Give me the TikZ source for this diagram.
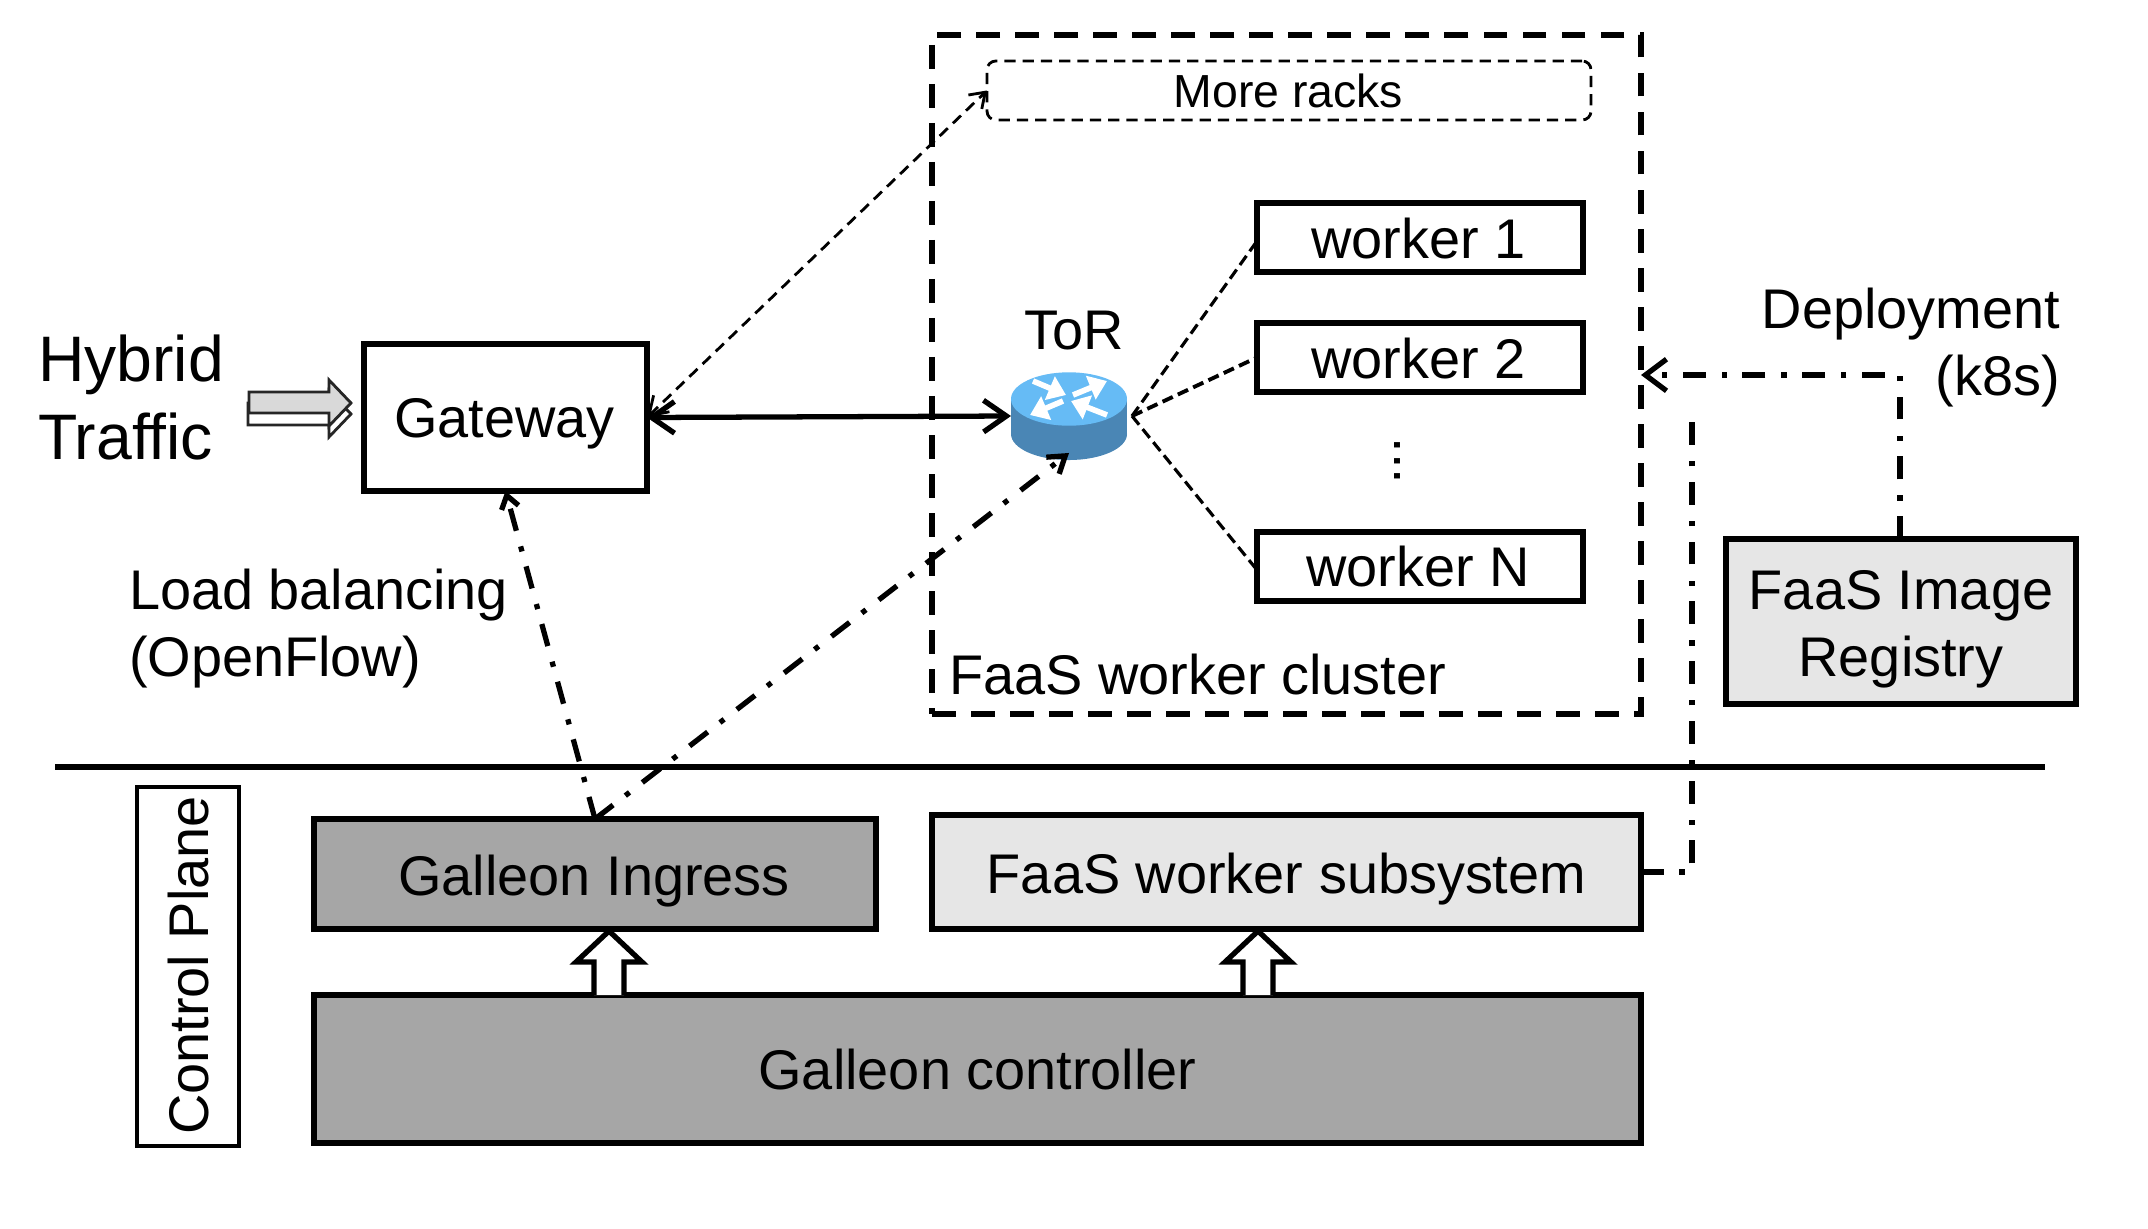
\documentclass[tikz,border=0pt]{standalone}
\usepackage{fontspec}
\setmainfont{Liberation Sans}
\usetikzlibrary{arrows.meta}
\newcommand{\fa}{\fontsize{15.9pt}{19.1pt}\selectfont}
\newcommand{\fb}{\fontsize{18.3pt}{22.2pt}\selectfont}
\newcommand{\fc}{\fontsize{13.2pt}{15pt}\selectfont}
\definecolor{darkbox}{HTML}{A6A6A6}
\definecolor{lightbox}{HTML}{E6E6E6}
\definecolor{routertop}{HTML}{66BBF5}
\definecolor{routerside}{HTML}{4A86B5}
\definecolor{trafficgray}{HTML}{D9D9D9}
\tikzset{
  plainbox/.style={draw=black,line width=1.45pt,inner sep=0pt,outer sep=0pt,font=\fa},
  box/.style={plainbox,text height=11.4pt,text depth=0pt},
  free/.style={inner sep=0pt,outer sep=0pt,font=\fa},
  clusterline/.style={line width=1.45pt,dash pattern=on 6.8pt off 4.3pt},
  thindash/.style={line width=0.8pt,dash pattern=on 3.2pt off 2pt},
  wiredash/.style={line width=0.9pt,dash pattern=on 3.2pt off 1.6pt},
  dashdot/.style={line width=1.5pt,dash pattern=on 6.5pt off 4.4pt on 1.5pt off 4.6pt},
  solidlink/.style={line width=1.5pt,{Straight Barb[length=6.5pt,width=9pt]}-{Straight Barb[length=6.5pt,width=9pt]}},
  hollow/.style={draw=black,fill=white,line width=1.5pt,line join=miter},
  traffic/.style={draw=black!85,line width=0.8pt},
  routerarrow/.style={white,line width=1.6pt,-{Triangle[length=5pt,width=7pt]}},
}
\begin{document}
\begin{tikzpicture}[x=0.2845pt,y=-0.2845pt]
\useasboundingbox (0,0) rectangle (2148,1228);
% cluster
\node[clusterline,draw=black,minimum width=709*0.2845pt,minimum height=679*0.2845pt,inner sep=0pt,outer sep=0pt] (cluster) at (1286.5,374.5) {};
\node[draw=black,thindash,rounded corners=2.5pt,minimum width=604*0.2845pt,minimum height=59*0.2845pt,inner sep=0pt,outer sep=0pt,font=\fc,text height=9.4pt,text depth=0pt] (racks) at (1289,90.5) {\hspace*{-0.4pt}\raisebox{-0.2pt}{More racks}};
% workers
\node[box,minimum width=326*0.2845pt,minimum height=69*0.2845pt] (w1) at (1420,237.5) {\hspace*{-1pt}\raisebox{-0.3pt}{worker 1}};
\node[box,minimum width=326*0.2845pt,minimum height=69*0.2845pt] (w2) at (1420,357.5) {\hspace*{-1pt}\raisebox{-0.3pt}{worker 2}};
\node[box,minimum width=326*0.2845pt,minimum height=69*0.2845pt] (wn) at (1420,566.5) {\hspace*{-1pt}worker N};
\node[free,rotate=-90] (dots) at (1397,461) {...};
% gateway
\node[box,minimum width=283*0.2845pt,minimum height=147*0.2845pt] (gw) at (505.5,417.5) {\hspace*{-0.6pt}Gateway};
% router
\node[inner sep=0pt,outer sep=0pt,minimum width=116*0.2845pt,minimum height=88*0.2845pt] (tor) at (1069,416) {};
\fill[routerside] (1011,399) rectangle (1127,434);
\fill[routerside] (1069,434) ellipse [x radius=16.5pt,y radius=7.4pt];
\fill[routertop] (1069,399) ellipse [x radius=16.5pt,y radius=7.6pt];
\draw[routerarrow] (1033,381) -- (1066,395);
\draw[routerarrow] (1073,395) -- (1107,381);
\draw[routerarrow] (1063,401) -- (1030,415);
\draw[routerarrow] (1107,415) -- (1071,401);
\node[free] (torlabel) at (1074,331) {ToR};
% registry
\node[plainbox,fill=lightbox,minimum width=350*0.2845pt,minimum height=165*0.2845pt,align=center] (reg) at (1901,621.5) {\rule{0pt}{15.7pt}FaaS Image\\Registry};
% control plane
\node[draw=black,line width=1.4pt,inner sep=0pt,outer sep=0pt,minimum width=102*0.2845pt,minimum height=359*0.2845pt] (cp) at (188,966.5) {};
\node[free,rotate=90,anchor=base] (cplabel) at (208,965.5) {Control Plane};
% control boxes
\node[box,fill=darkbox,minimum width=562*0.2845pt,minimum height=110*0.2845pt] (ing) at (595,874) {\raisebox{-0.3pt}{\hspace*{-0.5pt}Galleon Ingress}};
\node[box,fill=lightbox,minimum width=709*0.2845pt,minimum height=114*0.2845pt] (sub) at (1286.5,872) {\raisebox{-0.4pt}{FaaS worker subsystem}};
\node[box,fill=darkbox,minimum width=1327*0.2845pt,minimum height=148*0.2845pt] (ctrl) at (977.5,1069) {Galleon controller};
% separator
\coordinate (sepl) at (55,767);
\coordinate (sepr) at (2045,767);
\draw[line width=1.5pt] (sepl) -- (sepr);
% free labels
\node[free,font=\fb,align=left,anchor=north west] (hybrid) at (38,335) {Hybrid\\Traffic};
\node[free,align=left,anchor=north west] (lb) at (129,569) {Load balancing\\(OpenFlow)};
\node[free,align=right,anchor=north east] (dep) at (2060,288) {Deployment\\(k8s)};
\node[free,anchor=base west] (fwc) at (949,694) {FaaS worker cluster};
% traffic arrows
\draw[traffic,fill=white] (248,403) -- (329,403) -- (329,391) -- (351,414) -- (329,437) -- (329,425) -- (248,425) -- cycle;
\draw[traffic,fill=trafficgray] (249,392) -- (329,392) -- (329,380) -- (351,403) -- (329,426) -- (329,413) -- (249,413) -- cycle;
% hollow arrows
\draw[hollow] (594,995) -- (594,962) -- (576,962) -- (609,931) -- (642,962) -- (624,962) -- (624,995);
\draw[hollow] (1243,995) -- (1243,962) -- (1225,962) -- (1258,931) -- (1291,962) -- (1273,962) -- (1273,995);
% connectors
\draw[solidlink] (gw.east) -- (tor.west);
\draw[thindash,{Straight Barb[length=5pt,width=6.5pt]}-{Straight Barb[length=4pt,width=5.5pt]}] (gw.east) -- (racks.west);
\coordinate (portr) at (1132,416);
\draw[wiredash] (portr) -- ([yshift=-1pt]w1.west);
\draw[wiredash,line width=1.1pt] (portr) -- (w2.west);
\draw[wiredash] (portr) -- ([yshift=-1pt]wn.west);
\coordinate (ingtop) at (595,819);
\draw[dashdot,-{Straight Barb[length=3.6pt,width=5pt]}] (ingtop) -- (gw.south);
\draw[dashdot,-{Straight Barb[length=4.5pt,width=6pt]}] (ingtop) -- ([yshift=2pt]tor.south);
\coordinate (depturn) at (1900,375);
\draw[dashdot,-{Straight Barb[length=6pt,width=9pt]}] (reg.north -| depturn) -- (depturn) -- (depturn -| cluster.east);
\coordinate (subturn) at (1692,872);
\coordinate (subend) at (1692,408);
\draw[dashdot] (sub.east |- subturn) -- (subturn) -- (subend);
\end{tikzpicture}
\end{document}
